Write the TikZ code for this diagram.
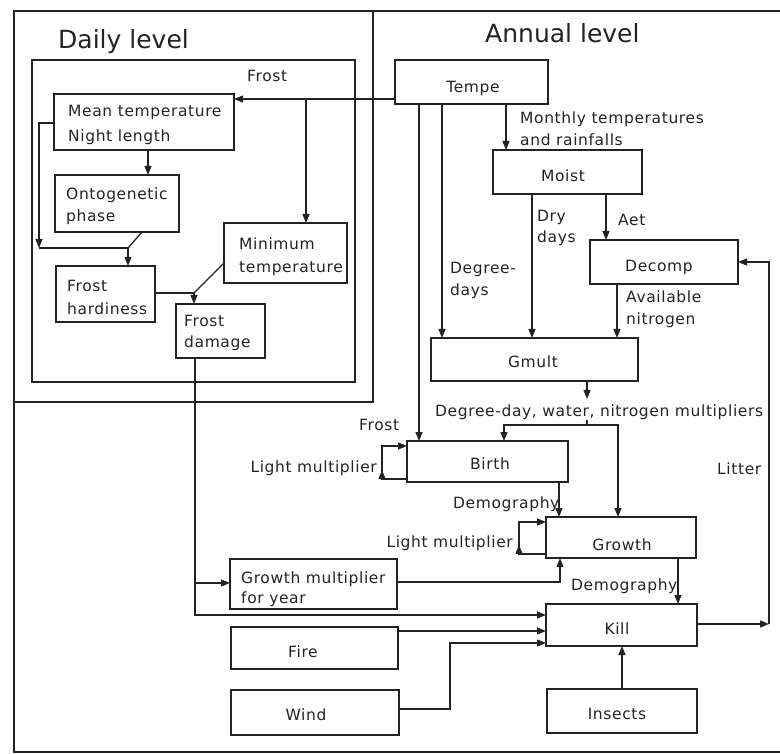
\documentclass[tikz,border=0pt]{standalone}
\usepackage{fontspec}
\setmainfont{DejaVu Sans}
\newfontfamily\labfont[LetterSpace=4]{DejaVu Sans}
\usetikzlibrary{arrows.meta}
\definecolor{ink}{RGB}{35,35,35}
\tikzset{
  box/.style={draw=ink, line width=1.5pt, rectangle, inner sep=0pt, outer sep=0pt},
  ln/.style={draw=ink, line width=1.3pt},
  arr/.style={ln, -{Triangle[length=9pt,width=7pt]}},
  lab/.style={inner sep=0pt, anchor=base west, font=\labfont\fontsize{15.5}{18}\selectfont, text=ink},
  labc/.style={lab, anchor=base},
  labe/.style={lab, anchor=base east},
  ttl/.style={inner sep=0pt, anchor=base west, font=\fontsize{25}{30}\selectfont, text=ink},
}
\newcommand\mkbox[5]{\node[box, minimum width={(#4)-(#2)}, minimum height={(#5)-(#3)}] (#1) at ({((#2)+(#4))/2},{((#3)+(#5))/2}) {};}
\begin{document}
\begin{tikzpicture}[x=1pt,y=-1pt]
\useasboundingbox (0,0) rectangle (780,754);
% frames
\draw[ln] (780,11) -- (14,11) -- (14,752) -- (780,752);
\draw[ln] (373,11) -- (373,402) -- (14,402);
\draw[ln] (32,60) rectangle (355,382);
\node[ttl] (tdaily) at (58,49) {Daily level};
\node[ttl] (tannual) at (485,43) {Annual level};
% boxes
\mkbox{mean}{54}{94}{234}{150}
\mkbox{onto}{55}{175}{179}{232}
\mkbox{mint}{224}{223}{347}{283}
\mkbox{hard}{56}{266}{155}{322}
\mkbox{dam}{176}{304}{265}{358}
\mkbox{tempe}{395}{60}{548}{104}
\mkbox{moist}{493}{150}{642}{194}
\mkbox{decomp}{590}{240}{738}{284}
\mkbox{gmult}{431}{338}{638}{381}
\mkbox{birth}{407}{441}{568}{482}
\mkbox{growth}{546}{517}{696}{558}
\mkbox{kill}{546}{604}{697}{646}
\mkbox{gm}{230}{559}{397}{609}
\mkbox{fire}{231}{627}{398}{669}
\mkbox{wind}{231}{690}{399}{735}
\mkbox{insects}{547}{689}{697}{733}
% box texts
\node[lab] (t1) at (68,117) {Mean temperature};
\node[lab] (t2) at (68,142) {Night length};
\node[lab] (t3) at (66,200) {Ontogenetic};
\node[lab] (t4) at (66,222) {phase};
\node[lab] (t5) at (239,250) {Minimum};
\node[lab] (t6) at (239,273) {temperature};
\node[lab] (t7) at (67,292) {Frost};
\node[lab] (t8) at (67,315) {hardiness};
\node[lab] (t9) at (184,327) {Frost};
\node[lab] (t10) at (184,348) {damage};
\node[labc] (t11) at (473,93) {Tempe};
\node[labc] (t12) at (563,182) {Moist};
\node[labc] (t13) at (659,272) {Decomp};
\node[labc] (t14) at (533,367) {Gmult};
\node[labc] (t15) at (490,469) {Birth};
\node[labc] (t16) at (622,550) {Growth};
\node[labc] (t17) at (617,634) {Kill};
\node[labc] (t18) at (617,719) {Insects};
\node[lab] (t19) at (241,583) {Growth multiplier};
\node[lab] (t20) at (241,603) {for year};
\node[labc] (t21) at (303,657) {Fire};
\node[labc] (t22) at (306,720) {Wind};
% connector labels
\node[lab] (l1) at (247,82) {Frost};
\node[lab] (l2) at (520,124) {Monthly temperatures};
\node[lab] (l3) at (520,146) {and rainfalls};
\node[lab] (l4) at (537,222) {Dry};
\node[lab] (l5) at (537,243) {days};
\node[lab] (l6) at (618,226) {Aet};
\node[lab] (l7) at (450,274) {Degree-};
\node[lab] (l8) at (450,296) {days};
\node[lab] (l9) at (626,303) {Available};
\node[lab] (l10) at (626,325) {nitrogen};
\node[lab] (l11) at (435,417) {Degree-day, water, nitrogen multipliers};
\node[lab] (l12) at (359,431) {Frost};
\node[labe] (l13) at (377,472) {Light multiplier};
\node[lab] (l14) at (717,474) {Litter};
\node[lab] (l15) at (453,508) {Demography};
\node[labe] (l16) at (513,547) {Light multiplier};
\node[lab] (l17) at (571,590) {Demography};
% daily connectors
\coordinate (jf) at (306,99);
\draw[arr] (tempe.west |- 0,99) -- (mean.east |- 0,99);
\draw[arr] (jf) -- (mint.north -| jf);
\draw[arr] (mean.south -| 148,0) -- (onto.north -| 148,0);
\coordinate (jl) at (39,248);
\coordinate (jh) at (128,248);
\draw[arr] (mean.west |- 0,123) -| (jl);
\draw[ln] (jl) -- (jh);
\draw[ln] (onto.south -| 142,0) -- (jh);
\draw[arr] (jh) -- (hard.north -| jh);
\coordinate (jd) at (194,293);
\draw[ln] (mint.west |- 0,263) -- (jd);
\draw[ln] (hard.east |- jd) -- (jd);
\draw[arr] (jd) -- (dam.north -| jd);
\coordinate (jk) at (195,615);
\coordinate (jg) at (195,583);
\draw[arr] (dam.south -| jk) -- (jk) -- (kill.west |- jk);
\draw[arr] (jg) -- (gm.west |- jg);
% annual connectors
\draw[arr] (tempe.south -| 506,0) -- (moist.north -| 506,0);
\draw[arr] (tempe.south -| 442,0) -- (gmult.north -| 442,0);
\draw[arr] (tempe.south -| 419,0) -- (birth.north -| 419,0);
\draw[arr] (moist.south -| 532,0) -- (gmult.north -| 532,0);
\draw[arr] (moist.south -| 606,0) -- (decomp.north -| 606,0);
\draw[arr] (decomp.south -| 617,0) -- (gmult.north -| 617,0);
\coordinate (ga) at (587,399);
\coordinate (gb) at (587,420);
\coordinate (gj) at (587,425);
\draw[arr] (gmult.south -| ga) -- (ga);
\draw[ln] (gb) -- (gj);
\draw[arr] (gj) -| (birth.north -| 504,0);
\draw[arr] (gj) -| (growth.north -| 618,0);
% light multiplier loops
\coordinate (lb1) at (382,479);
\coordinate (lb2) at (382,470);
\draw[arr] (birth.west |- lb1) -- (lb1) -- (382,446) -- (birth.west |- 0,446);
\draw[arr] (lb1) -- (lb2);
\coordinate (lg1) at (519,554);
\coordinate (lg2) at (519,545);
\draw[arr] (growth.west |- lg1) -- (lg1) -- (519,522) -- (growth.west |- 0,522);
\draw[arr] (lg1) -- (lg2);
% demography etc
\draw[arr] (birth.south -| 559,0) -- (growth.north -| 559,0);
\draw[arr] (growth.south -| 678,0) -- (kill.north -| 678,0);
\draw[arr] (gm.east |- 0,582) -| (growth.south -| 560,0);
\draw[arr] (fire.east |- 0,631) -- (kill.west |- 0,631);
\draw[arr] (wind.east |- 0,709) -- (450,709) -- (450,643) -- (kill.west |- 0,643);
\draw[arr] (insects.north -| 622,0) -- (kill.south -| 622,0);
\coordinate (lt) at (769,624);
\draw[arr] (kill.east |- lt) -- (lt);
\draw[arr] (lt) -- (769,262) -- (decomp.east |- 0,262);
\end{tikzpicture}
\end{document}
